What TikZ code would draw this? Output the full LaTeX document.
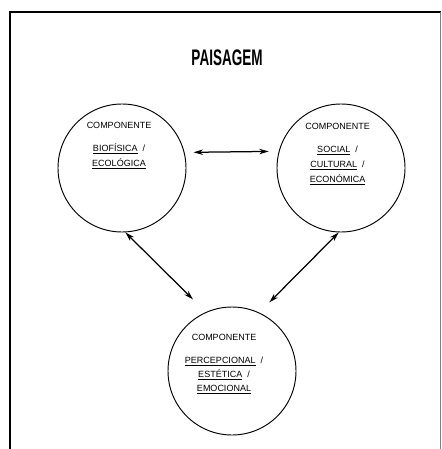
\documentclass[tikz,border=0pt]{standalone}
\usepackage{fontspec}
\usepackage{graphicx}
\setmainfont{Liberation Sans}
\usetikzlibrary{arrows.meta}

\tikzset{
  comp/.style={circle, draw, line width=0.95pt, minimum size=128pt, inner sep=0pt},
  label text/.style={align=center, anchor=north, font=\fontsize{9pt}{15pt}\selectfont, inner sep=0pt},
  link/.style={line width=1.25pt, {Stealth[length=9.5pt,width=5.5pt]}-{Stealth[length=9.5pt,width=5.5pt]}},
  frame/.style={line width=1.1pt}
}
\newcommand{\ul}[1]{\underline{#1}}

\begin{document}
\begin{tikzpicture}[x=1pt, y=-1pt]
  \useasboundingbox (0,0) rectangle (441,449);

  % outer frame (open at the bottom)
  \draw[frame] (10,449) -- (10,12) -- (441,12);
  \draw[line width=0.5pt, black!50] (440,12) -- (440,449);

  % title
  \node (title) at (227,58) {\fontsize{22.5pt}{22.5pt}\selectfont\bfseries\scalebox{0.6}[1]{PAISAGEM}};

  % the three components
  \node[comp] (bio) at (122,168) {};
  \node[comp] (soc) at (341,168) {};
  \node[comp] (per) at (232,371) {};

  \node[label text] (biotxt) at (119,121.8)
    {COMPONENTE\\[8pt] \ul{BIOFÍSICA}\ \ /\\ \ul{ECOLÓGICA}};
  \node[label text] (soctxt) at (337.5,122.8)
    {COMPONENTE\\[8pt] \ul{SOCIAL}\ \ /\\ \ul{CULTURAL}\ \ /\\ \ul{ECONÓMICA}};
  \node[label text, font=\fontsize{9pt}{14.3pt}\selectfont] (pertxt) at (224,333.8)
    {COMPONENTE\\[8.7pt] \ul{PERCEPCIONAL}\ \ /\\ \ul{ESTÉTICA}\ \ /\\ \ul{EMOCIONAL}};

  % relations between the components
  \draw[link, shorten <=9pt, shorten >=10pt] (bio.14.5) -- (soc.165.5);
  \draw[link, shorten <=0pt, shorten >=18pt] (bio.-87) -- (per.114.3);
  \draw[link, shorten <=0pt, shorten >=14.4pt] (soc.-92) -- (per.65.7);
\end{tikzpicture}
\end{document}
